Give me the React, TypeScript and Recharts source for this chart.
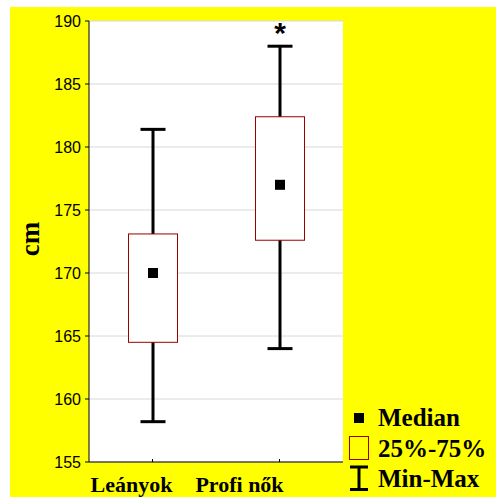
import React from 'react';
import { ComposedChart, Bar, XAxis, YAxis, CartesianGrid } from 'recharts';

const categories = ['Leányok', 'Profi nők'];
const minValues = [158.2, 164.0];
const q1Values = [164.5, 172.6];
const medianValues = [170.0, 177.0];
const q3Values = [173.1, 182.4];
const maxValues = [181.4, 188.0];
const markers = ['', '*'];
const yTicks = [155, 160, 165, 170, 175, 180, 185, 190];
const legendLabels = ['Median', '25%-75%', 'Min-Max'];

const SERIF = '"Liberation Serif", "Times New Roman", serif';
const SANS = '"Liberation Sans", Arial, sans-serif';
const BOX_RED = '#990000';

const data = categories.map((name, i) => ({
  name,
  range: [minValues[i], maxValues[i]],
  min: minValues[i],
  q1: q1Values[i],
  median: medianValues[i],
  q3: q3Values[i],
  max: maxValues[i],
  marker: markers[i],
}));

// box + whiskers, positioned from the bar's own [min, max] pixel range
const BoxShape = (props: any) => {
  const { x, y, width, height, payload } = props;
  const top = Math.min(y, y + height);
  const bottom = Math.max(y, y + height);
  const { min, max, q1, q3, median, marker } = payload;
  const toY = (v: number) => bottom - ((v - min) / (max - min)) * (bottom - top);
  const cx = x + width / 2;
  const cap = width / 2;
  return (
    <g>
      <line x1={cx} x2={cx} y1={toY(max)} y2={toY(min)} stroke="#000" strokeWidth={3} />
      <line x1={cx - cap / 2} x2={cx + cap / 2} y1={toY(max)} y2={toY(max)} stroke="#000" strokeWidth={3} />
      <line x1={cx - cap / 2} x2={cx + cap / 2} y1={toY(min)} y2={toY(min)} stroke="#000" strokeWidth={3} />
      <rect
        x={x + 0.5}
        y={toY(q3)}
        width={width - 1}
        height={toY(q1) - toY(q3)}
        fill="#fff"
        stroke={BOX_RED}
        strokeWidth={1}
      />
      <rect x={cx - 5} y={toY(median) - 5} width={10} height={10} fill="#000" />
      {marker && (
        <text
          x={cx}
          y={toY(max) - 3}
          textAnchor="middle"
          fontFamily={SANS}
          fontWeight="bold"
          fontSize={30}
          fill="#000"
        >
          {marker}
        </text>
      )}
    </g>
  );
};

const labelShift = [-21, -40];

const BottomTick = (props: any) => {
  const { x, y, payload, index } = props;
  return (
    <g>
      <line x1={x} x2={x} y1={y} y2={y - 3} stroke="#000" />
      <text
        x={x + labelShift[index]}
        y={y + 30}
        textAnchor="middle"
        fontFamily={SERIF}
        fontWeight="bold"
        fontSize={22}
        fill="#000"
      >
        {payload.value}
      </text>
    </g>
  );
};

const TopTick = (props: any) => {
  const { x, y } = props;
  return <line x1={x} x2={x} y1={y} y2={y + 3} stroke="#000" />;
};

const RightTick = (props: any) => {
  const { x, y } = props;
  return <line x1={x - 4} x2={x} y1={y} y2={y} stroke="#000" />;
};

const Legend = () => (
  <svg width={160} height={100} style={{ position: 'absolute', left: 330, top: 395 }}>
    <g transform="translate(-330,-395)">
      <rect x={344} y={406} width={10} height={10} fill="#000" />
      <rect x={339.5} y={429.5} width={19} height={23} fill="none" stroke={BOX_RED} strokeWidth={1} />
      <line x1={349} x2={349} y1={460} y2={482.5} stroke="#000" strokeWidth={3} />
      <line x1={340} x2={358} y1={460} y2={460} stroke="#000" strokeWidth={3} />
      <line x1={340} x2={358} y1={482.5} y2={482.5} stroke="#000" strokeWidth={3} />
      {legendLabels.map((label, i) => (
        <text
          key={label}
          x={368}
          y={419 + i * 30.5}
          fontFamily={SERIF}
          fontWeight="bold"
          fontSize={25}
          fill="#000"
        >
          {label}
        </text>
      ))}
    </g>
  </svg>
);

export default function App() {
  return (
    <div
      style={{
        position: 'absolute',
        left: 10,
        top: 7,
        width: 486,
        height: 490,
        background: '#ffff00',
      }}
    >
      <ComposedChart
        width={486}
        height={490}
        data={data}
        margin={{ top: 14, right: 153, bottom: 5, left: 19 }}
      >
        <CartesianGrid
          yAxisId="left"
          xAxisId="bottom"
          vertical={false}
          stroke="#d8d8d8"
          fill="#fff"
          fillOpacity={1}
        />
        <XAxis
          xAxisId="bottom"
          dataKey="name"
          height={30}
          tickSize={0}
          tickMargin={0}
          tickLine={false}
          axisLine={{ stroke: '#000' }}
          tick={BottomTick}
        />
        <XAxis
          xAxisId="top"
          orientation="top"
          dataKey="name"
          height={0}
          tickSize={0}
          tickMargin={0}
          tickLine={false}
          axisLine={{ stroke: '#000' }}
          tick={TopTick}
        />
        <YAxis
          yAxisId="left"
          width={60}
          domain={[155, 190]}
          ticks={yTicks}
          interval={0}
          tickSize={4}
          tickMargin={4}
          tickLine={{ stroke: '#000' }}
          axisLine={{ stroke: '#000' }}
          tick={{ fill: '#000', fontSize: 16, fontFamily: SANS }}
          label={({ viewBox }: any) => (
            <text
              x={29}
              y={232}
              transform="rotate(-90, 29, 232)"
              textAnchor="middle"
              fontFamily={SERIF}
              fontWeight="bold"
              fontSize={27}
              fill="#000"
            >
              cm
            </text>
          )}
        />
        <YAxis
          yAxisId="right"
          orientation="right"
          width={0}
          domain={[155, 190]}
          ticks={yTicks}
          interval={0}
          tickSize={0}
          tickMargin={0}
          tickLine={false}
          axisLine={{ stroke: '#000' }}
          tick={RightTick}
        />
        <Bar
          xAxisId="bottom"
          yAxisId="left"
          dataKey="range"
          barSize={50}
          shape={BoxShape}
          isAnimationActive={false}
        />
      </ComposedChart>
      <Legend />
    </div>
  );
}
